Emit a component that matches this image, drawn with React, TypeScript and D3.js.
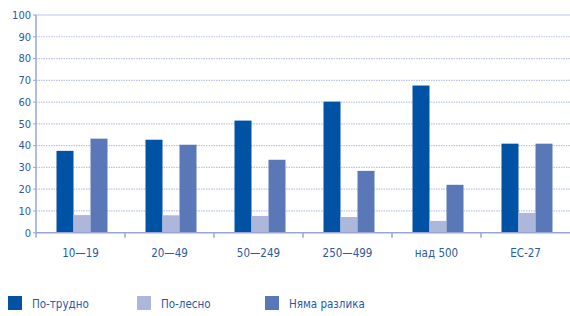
import React from "react";
import * as d3 from "d3";

const categories = ["10—19", "20—49", "50—249", "250—499", "над 500", "ЕС-27"];
const seriesNames = ["По-трудно", "По-лесно", "Няма разлика"];
const harder = [37.6, 42.7, 51.5, 60.2, 67.6, 40.9];
const easier = [8.1, 8.0, 7.7, 7.2, 5.4, 9.1];
const noDiff = [43.2, 40.4, 33.5, 28.4, 22.0, 40.9];
const yTicks = [0, 10, 20, 30, 40, 50, 60, 70, 80, 90, 100];

const colors = ["#0052a5", "#adb7db", "#5a78b8"];
const axisColor = "#97a6d3";
const textColor = "#2a5aa3";
const font = "'DejaVu Sans Condensed', sans-serif";

const App = () => {
  const width = 570;
  const height = 316;
  const left = 36;
  const right = 570;
  const top = 15;
  const bottom = 232.7;

  const series = [harder, easier, noDiff];

  const x = d3.scaleBand().domain(categories).range([left, right]);
  const inner = d3.scaleBand().domain(["0", "1", "2"]).range([0, 51]);
  const y = d3.scaleLinear().domain([0, 100]).range([bottom, top]);

  return (
    <svg
      width={width}
      height={height}
      style={{ position: "absolute", left: 0, top: 0, fontFamily: font }}
    >
      {yTicks.map((t) => (
        <g key={t}>
          {t > 0 && (
            <line
              x1={left}
              x2={right}
              y1={y(t)}
              y2={y(t)}
              stroke="#bcc5e6"
              strokeWidth={1.2}
              strokeDasharray={t === 100 ? undefined : "1.5,1"}
            />
          )}
          <line x1={left - 3} x2={left} y1={y(t)} y2={y(t)} stroke={axisColor} />
          <text
            x={left - 5}
            y={y(t)}
            dy="0.35em"
            textAnchor="end"
            fontSize={11}
            fill={textColor}
          >
            {t}
          </text>
        </g>
      ))}
      <line x1={left} x2={left} y1={top} y2={bottom + 5} stroke={axisColor} strokeWidth={1.5} />
      {categories.map((c, i) => {
        const cx = (x(c) as number) + x.bandwidth() / 2;
        return (
          <g key={c}>
            {series.map((s, j) => (
              <rect
                key={j}
                x={cx - 24 + (inner(String(j)) as number)}
                y={y(s[i])}
                width={inner.bandwidth()}
                height={bottom - y(s[i])}
                fill={colors[j]}
              />
            ))}
            <text
              x={cx}
              y={257}
              textAnchor="middle"
              fontSize={11.5}
              fill={textColor}
            >
              {c}
            </text>
            {i > 0 && (
              <line
                x1={x(c) as number}
                x2={x(c) as number}
                y1={bottom}
                y2={bottom + 5}
                stroke={axisColor}
                strokeWidth={1.5}
              />
            )}
          </g>
        );
      })}
      <line x1={left} x2={right} y1={bottom} y2={bottom} stroke={axisColor} strokeWidth={1.5} />
      {seriesNames.map((n, j) => {
        const lx = [8, 137, 265][j];
        return (
          <g key={n}>
            <rect x={lx} y={296} width={14} height={14} fill={colors[j]} />
            <text x={lx + 24} y={308} fontSize={11.5} fill={textColor}>
              {n}
            </text>
          </g>
        );
      })}
    </svg>
  );
};

export default App;
